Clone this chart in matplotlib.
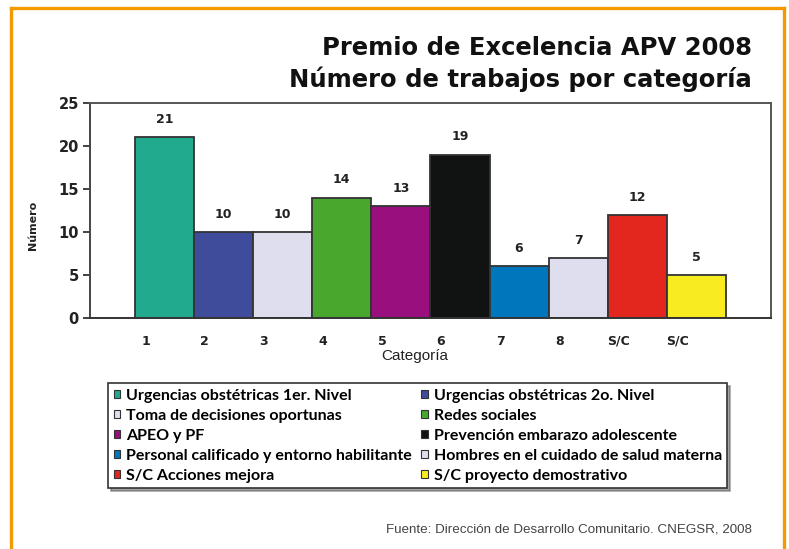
import matplotlib.pyplot as plt
from matplotlib.lines import Line2D

# datos
categorias = ["1", "2", "3", "4", "5", "6", "7", "8", "S/C", "S/C"]
trabajos = [21, 10, 10, 14, 13, 19, 6, 7, 12, 5]
nombres = [
    "Urgencias obstétricas 1er. Nivel",
    "Urgencias obstétricas 2o. Nivel",
    "Toma de decisiones oportunas",
    "Redes sociales",
    "APEO y PF",
    "Prevención embarazo adolescente",
    "Personal calificado y entorno habilitante",
    "Hombres en el cuidado de salud materna",
    "S/C Acciones mejora",
    "S/C proyecto demostrativo",
]
colores = ["#22aa8e", "#3f4c9c", "#dedeee", "#4aa72d", "#9a0f7e",
           "#111212", "#0077bd", "#dedeee", "#e3261e", "#f8ec20"]

fig = plt.figure(figsize=(7.89, 5.49), dpi=100)
ax = fig.add_axes([0.114, 0.4208, 0.863, 0.3916])

x = list(range(len(trabajos)))
bars = ax.bar(x, trabajos, width=1.0, color=colores, edgecolor="#333333",
              linewidth=1.3)
for xi, v in zip(x, trabajos):
    ax.annotate(str(v), (xi, v), xytext=(0, 8), textcoords="offset points",
                ha="center", va="bottom", fontsize=9, fontweight="bold",
                color="#222222")

ax.set_xlim(-1.26, 10.26)
ax.set_ylim(0, 25)
ax.set_yticks([0, 5, 10, 15, 20, 25])
ax.tick_params(axis="y", direction="out", length=5, width=1.2, pad=3,
               labelsize=10.5, colors="#222222")
for lab in ax.get_yticklabels():
    lab.set_fontweight("bold")
ax.set_xticks([xi - 0.32 for xi in x])
ax.set_xticklabels(categorias, fontsize=9, fontweight="bold", color="#222222")
ax.tick_params(axis="x", length=0, pad=12)

ax.spines["left"].set_color("#444444")
ax.spines["left"].set_linewidth(1.4)
ax.spines["bottom"].set_color("#333333")
ax.spines["bottom"].set_linewidth(1.4)
ax.spines["top"].set_color("#555555")
ax.spines["top"].set_linewidth(1.4)
ax.spines["right"].set_color("#555555")
ax.spines["right"].set_linewidth(1.4)

fig.text(415 / 789, 1 - 356 / 549, "Categoría", ha="center", va="center",
         fontsize=11, family="Liberation Sans", color="#222222")
fig.text(33 / 789, 1 - 225 / 549, "Número", ha="center", va="center",
         rotation=90, fontsize=8, fontweight="bold", color="#222222")

fig.text(752 / 789, 1 - 48 / 549, "Premio de Excelencia APV 2008",
         ha="right", va="center", fontsize=17.5, fontweight="bold",
         color="#111111")
fig.text(752 / 789, 1 - 79 / 549, "Número de trabajos por categoría",
         ha="right", va="center", fontsize=17.5, fontweight="bold",
         color="#111111")

# la leyenda se llena por filas: reordenar para ncol=2
orden = list(range(0, len(nombres), 2)) + list(range(1, len(nombres), 2))
leg = fig.legend(handles=[bars[i] for i in orden],
                 labels=[nombres[i] for i in orden], ncol=2,
                 loc="upper left", bbox_to_anchor=(108 / 789, 1 - 383 / 549),
                 prop={"family": "Lato", "weight": "bold", "size": 11.5},
                 frameon=True, fancybox=False, shadow=True,
                 handlelength=0.42, handleheight=0.42, handletextpad=0.35,
                 columnspacing=0.6, labelspacing=0.38, borderpad=0.35,
                 borderaxespad=0)
leg.get_frame().set_edgecolor("#333333")
leg.get_frame().set_linewidth(1.2)
for h in leg.legend_handles:
    h.set_linewidth(0.8)

fig.text(752 / 789, 1 - 530 / 549,
         "Fuente: Dirección de Desarrollo Comunitario. CNEGSR, 2008",
         ha="right", va="center", fontsize=9.6, family="Liberation Sans",
         color="#444444")

# marco naranja
orange = "#f39a00"
fig.add_artist(Line2D([11 / 789, 11 / 789], [0, 1 - 8 / 549], color=orange,
                      linewidth=2.4, transform=fig.transFigure))
fig.add_artist(Line2D([784 / 789, 784 / 789], [0, 1 - 8 / 549], color=orange,
                      linewidth=2.4, transform=fig.transFigure))
fig.add_artist(Line2D([11 / 789, 784 / 789], [1 - 8 / 549, 1 - 8 / 549],
                      color=orange, linewidth=2.4, transform=fig.transFigure))

fig.savefig("out.png", dpi=100)
